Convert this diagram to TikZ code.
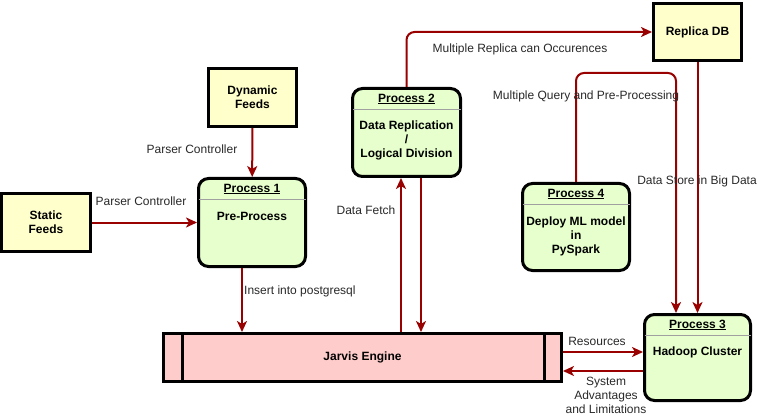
\documentclass[tikz,border=0pt]{standalone}
\usepackage{fontspec}
\setmainfont{Liberation Sans}
\usetikzlibrary{arrows.meta,calc}
\definecolor{arrred}{RGB}{153,0,0}
\definecolor{yfill}{RGB}{255,255,204}
\definecolor{gfill}{RGB}{230,255,204}
\definecolor{pfill}{RGB}{255,204,204}
\definecolor{lbl}{RGB}{40,40,40}
\definecolor{sepgray}{RGB}{160,160,160}
\begin{document}
\begin{tikzpicture}[x=1pt,y=-1pt,
  extbox/.style={draw=black, line width=3pt, fill=yfill, inner sep=0pt, align=center,
    font=\bfseries\fontsize{12}{14}\selectfont},
  procbox/.style={draw=black, line width=3pt, fill=gfill, rounded corners=10pt, inner sep=0pt},
  ptitle/.style={inner sep=0pt, font=\bfseries\fontsize{12}{14}\selectfont},
  ptext/.style={inner sep=0pt, align=center, font=\bfseries\fontsize{12}{14}\selectfont},
  sepline/.style={draw=sepgray, line width=1pt},
  arr/.style={draw=arrred, line width=2pt, rounded corners=8pt,
    -{Stealth[length=11pt,width=10pt,inset=3pt]}},
  elabel/.style={inner sep=0pt, text=lbl, align=center, font=\fontsize{12}{14}\selectfont}]
\useasboundingbox (0,0) rectangle (758,417);

% external entities
\node[extbox, minimum width=89pt, minimum height=58pt] (static) at (46,222.5) {Static\\Feeds};
\node[extbox, minimum width=88pt, minimum height=58pt] (dynamic) at (252.5,97.5) {Dynamic\\Feeds};
\node[extbox, minimum width=88pt, minimum height=57pt] (replica) at (697.5,32) {Replica DB};

% processes
\node[procbox, minimum width=107pt, minimum height=88pt] (p1) at (252,222.5) {};
\node[procbox, minimum width=108pt, minimum height=88pt] (p2) at (406.5,132.5) {};
\node[procbox, minimum width=106pt, minimum height=86pt] (p3) at (697.5,357.5) {};
\node[procbox, minimum width=107pt, minimum height=87pt] (p4) at (576,227) {};

\foreach \p in {p1,p2,p3,p4}{
  \draw[sepline] ([xshift=1.5pt,yshift=-22.5pt]\p.north west) -- ([xshift=-1.5pt,yshift=-22.5pt]\p.north east);
}

\node[ptitle] (p1t) at ([yshift=-12pt]p1.north) {\underline{Process 1}};
\node[ptext] (p1b) at ([yshift=-39.5pt]p1.north) {Pre-Process};
\node[ptitle] (p2t) at ([yshift=-12pt]p2.north) {\underline{Process 2}};
\node[ptext] (p2b) at ([yshift=-53.5pt]p2.north) {Data Replication\\/\\Logical Division};
\node[ptitle] (p3t) at ([yshift=-12pt]p3.north) {\underline{Process 3}};
\node[ptext] (p3b) at ([yshift=-39.5pt]p3.north) {Hadoop Cluster};
\node[ptitle] (p4t) at ([yshift=-12pt]p4.north) {\underline{Process 4}};
\node[ptext] (p4b) at ([yshift=-54.5pt]p4.north) {Deploy ML model\\in\\PySpark};

% data store
\node[draw=black, line width=3pt, fill=pfill, minimum width=398pt, minimum height=48pt, inner sep=0pt,
  font=\bfseries\fontsize{12}{14}\selectfont] (jarvis) at (362.5,357.5) {Jarvis Engine};
\draw[line width=3pt] ([xshift=20pt]jarvis.north west) -- ([xshift=20pt]jarvis.south west);
\draw[line width=3pt] ([xshift=-19pt]jarvis.north east) -- ([xshift=-19pt]jarvis.south east);

% connectors
\draw[arr] (static) -- (p1);
\node[elabel] (l1) at (141,201) {Parser Controller};
\draw[arr] (dynamic) -- (p1);
\node[elabel] (l2) at (192,149) {Parser Controller};
\draw[arr] ([xshift=-10pt]p1.south) -- ([xshift=-10pt]p1.south |- jarvis.north);
\node[elabel, anchor=west] (l3) at (244,291) {Insert into postgresql};
\draw[arr] ([xshift=-5.5pt]p2.south |- jarvis.north) -- ([xshift=-5.5pt]p2.south);
\node[elabel] (l4) at (366,210) {Data Fetch};
\draw[arr] ([xshift=14.5pt]p2.south) -- ([xshift=14.5pt]p2.south |- jarvis.north);
\draw[arr] (p2.north) |- (replica.west);
\node[elabel] (l5) at (520,49) {Multiple Replica can Occurences};
\coordinate (looptop) at (576,73);
\draw[arr] (p4.north) |- ([xshift=-21.5pt]p3.north |- looptop) -- ([xshift=-21.5pt]p3.north);
\node[elabel] (l6) at (586,96) {Multiple Query and Pre-Processing};
\draw[arr] (replica) -- (p3);
\node[elabel] (l7) at (697,181) {Data Store in Big Data};
\draw[arr] ([yshift=5.5pt]jarvis.east) -- ([yshift=5.5pt]jarvis.east -| p3.west);
\node[elabel] (l8) at (597,341) {Resources};
\draw[arr] ([yshift=-13.5pt]jarvis.east -| p3.west) -- ([yshift=-13.5pt]jarvis.east);
\node[elabel] (l9) at (606,395) {System\\Advantages\\and Limitations};
\end{tikzpicture}
\end{document}
